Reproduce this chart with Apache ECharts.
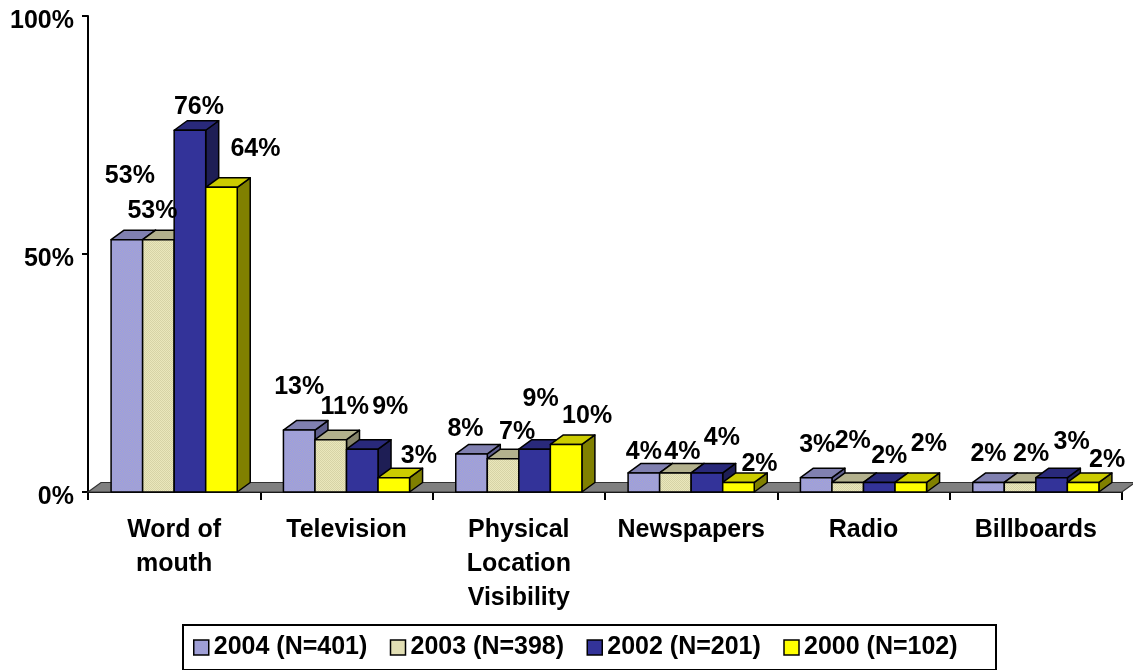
<!DOCTYPE html>
<html>
<head>
<meta charset="utf-8">
<script src="https://cdn.jsdelivr.net/npm/echarts@6/dist/echarts.min.js"></script>
<style>
  html, body { margin: 0; padding: 0; background: #fff; }
  #chart { width: 1133px; height: 670px; }
</style>
</head>
<body>
<div id="chart"></div>
<script>
// Where respondents heard about the business, by survey year
const CATEGORIES = ['Word of\nmouth', 'Television', 'Physical\nLocation\nVisibility', 'Newspapers', 'Radio', 'Billboards'];
const SERIES_NAMES = ['2004 (N=401)', '2003 (N=398)', '2002 (N=201)', '2000 (N=102)'];
const VALUES_2004 = [53, 13, 8, 4, 3, 2];
const VALUES_2003 = [53, 11, 7, 4, 2, 2];
const VALUES_2002 = [76, 9, 9, 4, 2, 3];
const VALUES_2000 = [64, 3, 10, 2, 2, 2];
const Y_TICKS = [0, 50, 100];

// Label placement: [horizontal shift, rise above bar top] in px, per series and category
const LABEL_NUDGE = [
  [[3, 64], [0, 43], [-6, 25], [0, 21], [1, 33], [0, 28]],
  [[-6, 29], [14, 33], [14, 27], [7, 21], [5, 41], [11, 28]],
  [[9, 23], [28, 42], [6, 50], [15, 35], [10, 26], [20, 36]],
  [[34, 38], [25, 22], [21, 28], [21, 18], [18, 38], [24, 22]]
];

const FONT = "'Liberation Sans', Arial, sans-serif";
const FONT_SIZE = 25;
const BAR_FRAC = 0.183;   // bar front width as a share of the category band
const DEPTH_X = 13;       // 3D depth offset (px)
const DEPTH_Y = 9.5;

function dither(a, b) {
  const cv = document.createElement('canvas');
  cv.width = 2; cv.height = 2;
  const ctx = cv.getContext('2d');
  ctx.fillStyle = a; ctx.fillRect(0, 0, 2, 2);
  ctx.fillStyle = b; ctx.fillRect(0, 0, 1, 1); ctx.fillRect(1, 1, 1, 1);
  return { image: cv, repeat: 'repeat' };
}

const STYLES = [
  { legend: '#9f9fd6', front: dither('#9999e6', '#a8a8c8'), top: '#8080b0', side: '#5e5e8c' },
  { legend: '#e2dfb4', front: dither('#eae7bc', '#d6d3a6'), top: '#b3b18d', side: '#86846a' },
  { legend: '#333399', front: '#333399', top: '#29297a', side: '#1e1e55' },
  { legend: '#ffff00', front: '#ffff00', top: '#cccc00', side: '#808000' }
];

const ALL_VALUES = [VALUES_2004, VALUES_2003, VALUES_2002, VALUES_2000];

function barRenderer(s) {
  return function (params, api) {
    const c = api.value(0), v = api.value(1);
    const base = api.coord([c, 0]);
    const top = api.coord([c, v]);
    const W = api.size([1, 0])[0];
    const bw = W * BAR_FRAC;
    const x0 = base[0] - 2 * bw + s * bw, x1 = x0 + bw;
    const y0 = base[1], y1 = top[1];
    const st = STYLES[s];
    const stroke = { stroke: '#000', lineWidth: 1.5, lineJoin: 'round' };
    const nudge = LABEL_NUDGE[s][params.dataIndex];
    return {
      type: 'group',
      children: [
        { type: 'polygon', shape: { points: [[x1, y0], [x1 + DEPTH_X, y0 - DEPTH_Y], [x1 + DEPTH_X, y1 - DEPTH_Y], [x1, y1]] },
          style: Object.assign({ fill: st.side }, stroke) },
        { type: 'polygon', shape: { points: [[x0, y1], [x0 + DEPTH_X, y1 - DEPTH_Y], [x1 + DEPTH_X, y1 - DEPTH_Y], [x1, y1]] },
          style: Object.assign({ fill: st.top }, stroke) },
        { type: 'rect', shape: { x: x0, y: y1, width: bw, height: y0 - y1 },
          style: Object.assign({ fill: st.front }, stroke) },
        { type: 'text', z2: 100,
          style: { text: v + '%', x: (x0 + x1) / 2 + nudge[0], y: y1 - nudge[1],
                   align: 'center', verticalAlign: 'middle',
                   font: 'bold ' + FONT_SIZE + 'px ' + FONT, fill: '#000' } }
      ]
    };
  };
}

function floorRenderer(params, api) {
  const W = api.size([1, 0])[0];
  const a = api.coord([0, 0]);
  const b = api.coord([CATEGORIES.length - 1, 0]);
  const L = a[0] - W / 2, R = b[0] + W / 2, y = a[1];
  return {
    type: 'polygon',
    shape: { points: [[L, y], [L + DEPTH_X, y - DEPTH_Y], [R + DEPTH_X, y - DEPTH_Y], [R, y]] },
    style: { fill: '#808080', stroke: '#333', lineWidth: 1.2 }
  };
}

const series = [{
  type: 'custom', name: 'floor', z: 1, silent: true,
  renderItem: floorRenderer, data: [[0, 0]], encode: { x: 0, y: 1 }
}];
SERIES_NAMES.forEach((name, s) => {
  series.push({
    type: 'custom', name: name, z: 2,
    itemStyle: { color: STYLES[s].legend },
    renderItem: barRenderer(s),
    encode: { x: 0, y: 1 },
    data: ALL_VALUES[s].map((v, i) => [i, v])
  });
});

const chart = echarts.init(document.getElementById('chart'), null, { renderer: 'canvas' });
chart.setOption({
  animation: false,
  backgroundColor: '#fff',
  grid: { left: 88, right: 11, top: 16, bottom: 178, containLabel: false },
  xAxis: {
    type: 'category',
    data: CATEGORIES,
    boundaryGap: true,
    axisLine: { show: true, lineStyle: { color: '#000', width: 2 } },
    axisTick: { show: true, length: 8, lineStyle: { color: '#000', width: 2 } },
    axisLabel: { interval: 0, margin: 21, color: '#000', fontFamily: FONT, fontWeight: 'bold',
                 fontSize: FONT_SIZE, lineHeight: 34 },
    splitLine: { show: false }
  },
  yAxis: {
    type: 'value',
    min: Y_TICKS[0], max: Y_TICKS[Y_TICKS.length - 1], interval: Y_TICKS[1] - Y_TICKS[0],
    axisLine: { show: true, lineStyle: { color: '#000', width: 2 } },
    axisTick: { show: true, length: 6, lineStyle: { color: '#000', width: 2 } },
    axisLabel: { formatter: '{value}%', margin: 14, color: '#000', fontFamily: FONT,
                 fontWeight: 'bold', fontSize: FONT_SIZE, verticalAlign: 'top', lineHeight: 10 },
    splitLine: { show: false }
  },
  legend: {
    data: SERIES_NAMES,
    left: 183, top: 625,
    orient: 'horizontal',
    borderColor: '#000', borderWidth: 2,
    padding: [10, 16, 10, 10],
    itemWidth: 15, itemHeight: 15, itemGap: 0,
    icon: 'rect',
    itemStyle: { borderColor: '#000', borderWidth: 1.5 },
    textStyle: { color: '#000', fontFamily: FONT, fontWeight: 'bold', fontSize: FONT_SIZE,
                 width: 176, lineHeight: 24 }
  },
  series: series
});
</script>
</body>
</html>
